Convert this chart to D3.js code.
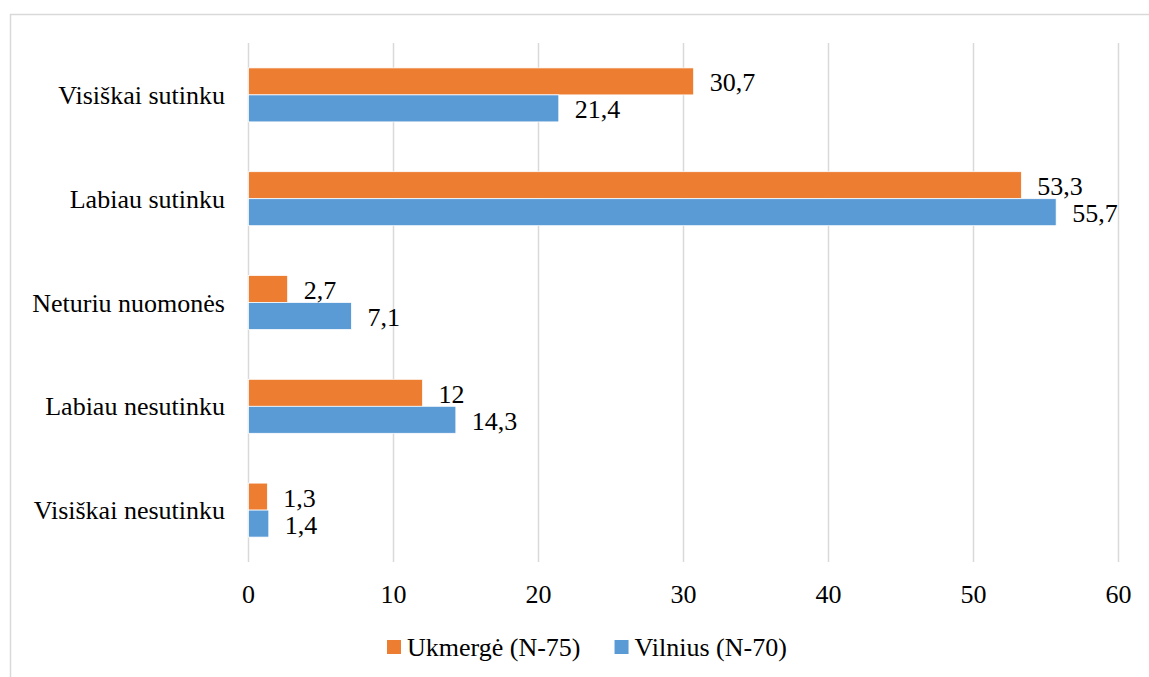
<!DOCTYPE html>
<html>
<head>
<meta charset="utf-8">
<script src="https://cdn.jsdelivr.net/npm/d3@7"></script>
<style>
  html, body { margin: 0; padding: 0; background: #fff; }
</style>
</head>
<body>
<div id="chart"></div>
<script>
// categories, top to bottom
const categories = ["Visiškai sutinku", "Labiau sutinku", "Neturiu nuomonės", "Labiau nesutinku", "Visiškai nesutinku"];
const seriesNames = ["Ukmergė (N-75)", "Vilnius (N-70)"];
const ukmerge = [30.7, 53.3, 2.7, 12, 1.3];
const vilnius = [21.4, 55.7, 7.1, 14.3, 1.4];
const xTicks = [0, 10, 20, 30, 40, 50, 60];
const colors = ["#ED7D31", "#5B9BD5"];

const width = 1149, height = 677;
const plot = {left: 248.5, right: 1118.5, top: 43, bottom: 562};
const font = "'Liberation Serif', 'Times New Roman', Tinos, 'DejaVu Serif', serif";

const svg = d3.select("#chart")
    .append("svg")
    .attr("width", width)
    .attr("height", height)
    .attr("font-family", font)
    .style("font-family", font);

// outer chart border (runs off right and bottom edges)
svg.append("rect")
    .attr("x", 10.5).attr("y", 14.5)
    .attr("width", 1200).attr("height", 700)
    .attr("fill", "none")
    .attr("stroke", "#d9d9d9")
    .attr("stroke-width", 1.5);

const x = d3.scaleLinear().domain([0, 60]).range([plot.left, plot.right]);
const y = d3.scaleBand().domain(categories).range([plot.top, plot.bottom])
    .paddingInner(0.48).paddingOuter(0.24);
const ySub = d3.scaleBand().domain([0, 1]).range([0, y.bandwidth()]);

// gridlines
svg.append("g")
    .selectAll("line")
    .data(xTicks)
    .join("line")
    .attr("x1", d => x(d)).attr("x2", d => x(d))
    .attr("y1", plot.top).attr("y2", plot.bottom)
    .attr("stroke", "#d9d9d9")
    .attr("stroke-width", 1.5);

// tick labels
svg.append("g")
    .selectAll("text")
    .data(xTicks)
    .join("text")
    .attr("x", d => x(d))
    .attr("y", 603)
    .attr("text-anchor", "middle")
    .attr("font-size", 26)
    .text(d => d);

// category labels
svg.append("g")
    .selectAll("text")
    .data(categories)
    .join("text")
    .attr("x", 225)
    .attr("y", d => y(d) + y.bandwidth() / 2 + 9)
    .attr("text-anchor", "end")
    .attr("font-size", 26)
    .text(d => d);

const rows = [];
categories.forEach(function(c, i) {
    rows.push({cat: c, s: 0, v: ukmerge[i]});
    rows.push({cat: c, s: 1, v: vilnius[i]});
});

svg.append("g")
    .selectAll("rect")
    .data(rows)
    .join("rect")
    .attr("x", x(0))
    .attr("y", d => y(d.cat) + ySub(d.s))
    .attr("width", d => x(d.v) - x(0))
    .attr("height", ySub.bandwidth())
    .attr("fill", d => colors[d.s])
    .attr("stroke", "#fff")
    .attr("stroke-width", 0.75);

// value labels
svg.append("g")
    .selectAll("text")
    .data(rows)
    .join("text")
    .attr("x", d => x(d.v) + 16)
    .attr("y", d => y(d.cat) + ySub(d.s) + ySub.bandwidth() / 2 + 10)
    .attr("font-size", 26)
    .text(d => String(d.v).replace(".", ","));

// legend
const legend = svg.append("g");
let lx = 387;
seriesNames.forEach(function(name, i) {
    legend.append("rect")
        .attr("x", lx).attr("y", 640)
        .attr("width", 14).attr("height", 14)
        .attr("fill", colors[i]);
    const t = legend.append("text")
        .attr("x", lx + 20)
        .attr("y", 656)
        .attr("font-size", 26)
        .text(name);
    lx += 20 + t.node().getComputedTextLength() + 34;
});
</script>
</body>
</html>
